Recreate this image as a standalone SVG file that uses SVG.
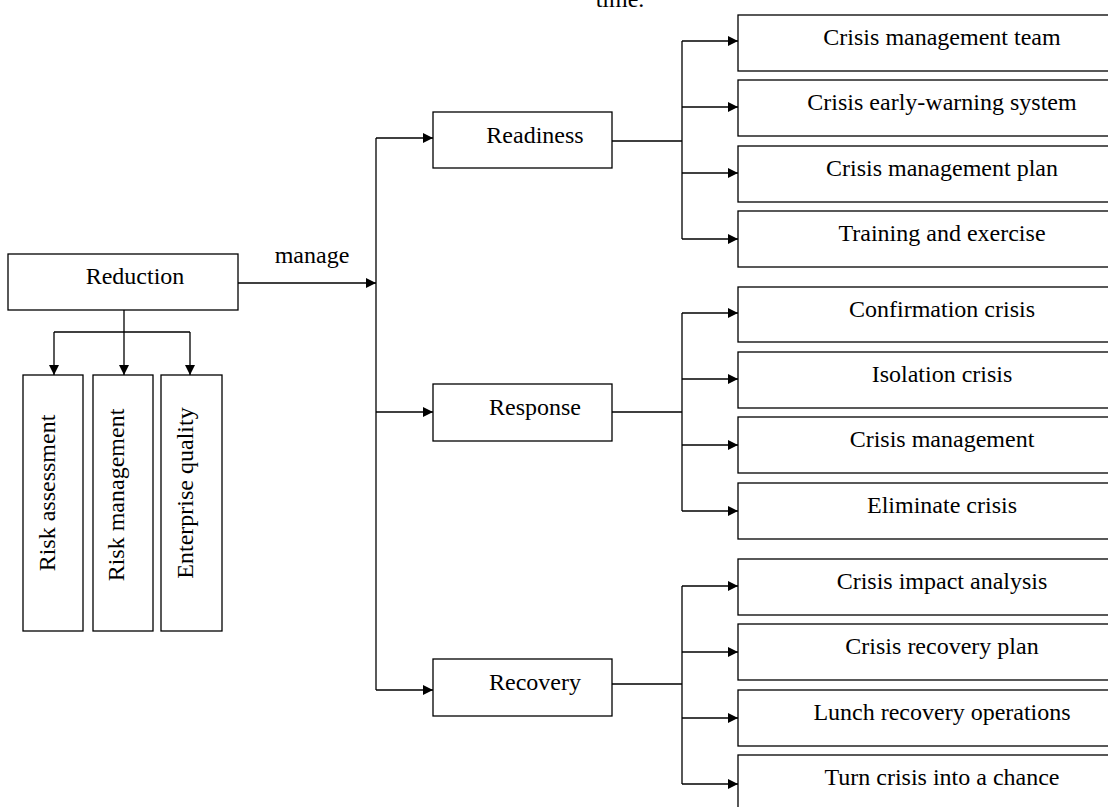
<svg xmlns="http://www.w3.org/2000/svg" width="1108" height="807" viewBox="0 0 1108 807">
<style>
.box{fill:#fff;stroke:#000;stroke-width:1.3}
.t{font-family:"Liberation Serif","Times New Roman",serif;font-size:24px;fill:#000;text-anchor:middle}
.ln{fill:none;stroke:#000;stroke-width:1.3}
.ar{fill:none;stroke:#000;stroke-width:1.3;marker-end:url(#ah)}
</style>
<defs>
<marker id="ah" markerUnits="userSpaceOnUse" markerWidth="10" markerHeight="10" refX="10" refY="5" orient="auto">
<path d="M0,0 L10,5 L0,10 z" fill="#000"/>
</marker>
</defs>
<rect width="1108" height="807" fill="#fff"/>
<text class="t" x="620" y="7">time.</text>
<g id="connectors">
<path class="ar" d="M238,283 H376"/>
<path class="ln" d="M376,138 V690"/>
<path class="ar" d="M376,138 H433"/>
<path class="ar" d="M376,412 H433"/>
<path class="ar" d="M376,690 H433"/>
<path class="ln" d="M124,310 V332"/>
<path class="ln" d="M54,332 H190"/>
<path class="ar" d="M54,332 V375"/>
<path class="ar" d="M124,332 V375"/>
<path class="ar" d="M190,332 V375"/>
<path class="ln" d="M612,141 H682 M682,41 V239"/>
<path class="ar" d="M682,41 H738"/>
<path class="ar" d="M682,107 H738"/>
<path class="ar" d="M682,173 H738"/>
<path class="ar" d="M682,239 H738"/>
<path class="ln" d="M612,412 H682 M682,313 V511"/>
<path class="ar" d="M682,313 H738"/>
<path class="ar" d="M682,379 H738"/>
<path class="ar" d="M682,445 H738"/>
<path class="ar" d="M682,511 H738"/>
<path class="ln" d="M612,684 H682 M682,586 V784"/>
<path class="ar" d="M682,586 H738"/>
<path class="ar" d="M682,652 H738"/>
<path class="ar" d="M682,718 H738"/>
<path class="ar" d="M682,784 H738"/>
<text class="t" x="312" y="263">manage</text>
</g>
<g id="reduction"><rect class="box" x="8" y="254" width="230" height="56"/><text class="t" x="135" y="284">Reduction</text></g>
<g id="risk-assessment"><rect class="box" x="23" y="375" width="60" height="256"/><text class="t" transform="translate(55,493) rotate(-90)">Risk assessment</text></g>
<g id="risk-management"><rect class="box" x="93" y="375" width="60" height="256"/><text class="t" transform="translate(124,495) rotate(-90)">Risk management</text></g>
<g id="enterprise-quality"><rect class="box" x="161" y="375" width="61" height="256"/><text class="t" transform="translate(193,493) rotate(-90)">Enterprise quality</text></g>
<g id="readiness"><rect class="box" x="433" y="112" width="179" height="56"/><text class="t" x="535" y="143">Readiness</text></g>
<g id="response"><rect class="box" x="433" y="384" width="179" height="57"/><text class="t" x="535" y="415">Response</text></g>
<g id="recovery"><rect class="box" x="433" y="659" width="179" height="57"/><text class="t" x="535" y="690">Recovery</text></g>
<g id="r1"><rect class="box" x="738" y="15" width="380" height="56"/><text class="t" x="942" y="45">Crisis management team</text></g>
<g id="r2"><rect class="box" x="738" y="80" width="380" height="56"/><text class="t" x="942" y="110">Crisis early-warning system</text></g>
<g id="r3"><rect class="box" x="738" y="146" width="380" height="56"/><text class="t" x="942" y="176">Crisis management plan</text></g>
<g id="r4"><rect class="box" x="738" y="211" width="380" height="56"/><text class="t" x="942" y="241">Training and exercise</text></g>
<g id="s1"><rect class="box" x="738" y="287" width="380" height="55"/><text class="t" x="942" y="317">Confirmation crisis</text></g>
<g id="s2"><rect class="box" x="738" y="352" width="380" height="56"/><text class="t" x="942" y="382">Isolation crisis</text></g>
<g id="s3"><rect class="box" x="738" y="417" width="380" height="56"/><text class="t" x="942" y="447">Crisis management</text></g>
<g id="s4"><rect class="box" x="738" y="483" width="380" height="56"/><text class="t" x="942" y="513">Eliminate crisis</text></g>
<g id="c1"><rect class="box" x="738" y="559" width="380" height="56"/><text class="t" x="942" y="589">Crisis impact analysis</text></g>
<g id="c2"><rect class="box" x="738" y="624" width="380" height="56"/><text class="t" x="942" y="654">Crisis recovery plan</text></g>
<g id="c3"><rect class="box" x="738" y="690" width="380" height="56"/><text class="t" x="942" y="720">Lunch recovery operations</text></g>
<g id="c4"><rect class="box" x="738" y="755" width="380" height="70"/><text class="t" x="942" y="785">Turn crisis into a chance</text></g>
</svg>
